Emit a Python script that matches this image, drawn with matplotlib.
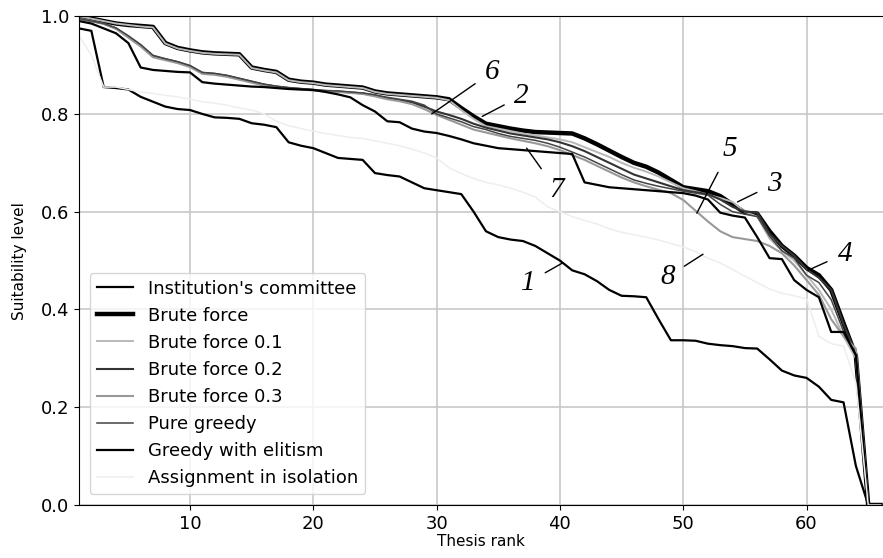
import numpy as np
import matplotlib
matplotlib.use("Agg")
import matplotlib.pyplot as plt

ranks = np.arange(1, 67)

committee = [0.975, 0.970, 0.855, 0.853, 0.850, 0.835, 0.825, 0.815, 0.810, 0.808,
             0.800, 0.793, 0.792, 0.790, 0.781, 0.778, 0.773, 0.742, 0.735, 0.730,
             0.720, 0.710, 0.708, 0.706, 0.679, 0.675, 0.672, 0.660, 0.648, 0.644,
             0.640, 0.636, 0.600, 0.560, 0.548, 0.543, 0.540, 0.530, 0.515, 0.500,
             0.480, 0.472, 0.458, 0.440, 0.428, 0.427, 0.425, 0.380, 0.337, 0.337,
             0.336, 0.330, 0.327, 0.325, 0.321, 0.320, 0.298, 0.275, 0.265, 0.260,
             0.242, 0.215, 0.210, 0.080, 0.000, 0.000]

brute = [1.000, 0.995, 0.990, 0.985, 0.982, 0.980, 0.978, 0.945, 0.935, 0.930,
         0.926, 0.924, 0.923, 0.922, 0.895, 0.890, 0.886, 0.870, 0.866, 0.864,
         0.860, 0.858, 0.856, 0.854, 0.846, 0.842, 0.840, 0.838, 0.836, 0.834,
         0.830, 0.812, 0.795, 0.780, 0.775, 0.770, 0.766, 0.763, 0.762, 0.761,
         0.760, 0.750, 0.738, 0.725, 0.712, 0.700, 0.692, 0.680, 0.665, 0.650,
         0.646, 0.642, 0.632, 0.615, 0.598, 0.596, 0.560, 0.530, 0.510, 0.485,
         0.470, 0.440, 0.372, 0.305, 0.000, 0.000]

brute_01 = [1.000, 0.995, 0.990, 0.985, 0.982, 0.979, 0.977, 0.944, 0.934, 0.929,
            0.925, 0.923, 0.922, 0.921, 0.894, 0.889, 0.885, 0.869, 0.865, 0.863,
            0.859, 0.857, 0.855, 0.853, 0.845, 0.841, 0.839, 0.837, 0.835, 0.833,
            0.828, 0.808, 0.790, 0.775, 0.770, 0.765, 0.760, 0.756, 0.752, 0.748,
            0.742, 0.732, 0.722, 0.712, 0.700, 0.690, 0.682, 0.672, 0.660, 0.648,
            0.642, 0.635, 0.628, 0.620, 0.600, 0.590, 0.545, 0.520, 0.500, 0.470,
            0.440, 0.400, 0.345, 0.300, 0.000, 0.000]

brute_02 = [0.995, 0.990, 0.985, 0.975, 0.958, 0.940, 0.918, 0.912, 0.906, 0.898,
            0.884, 0.882, 0.878, 0.872, 0.866, 0.860, 0.856, 0.853, 0.851, 0.849,
            0.847, 0.846, 0.844, 0.842, 0.838, 0.832, 0.828, 0.824, 0.815, 0.805,
            0.798, 0.790, 0.780, 0.772, 0.766, 0.760, 0.756, 0.752, 0.748, 0.742,
            0.734, 0.724, 0.712, 0.700, 0.688, 0.676, 0.668, 0.660, 0.652, 0.644,
            0.640, 0.636, 0.625, 0.610, 0.600, 0.598, 0.555, 0.530, 0.510, 0.482,
            0.465, 0.440, 0.370, 0.310, 0.000, 0.000]

brute_03 = [0.995, 0.990, 0.984, 0.974, 0.956, 0.938, 0.916, 0.910, 0.904, 0.896,
            0.882, 0.880, 0.876, 0.870, 0.864, 0.858, 0.855, 0.852, 0.850, 0.848,
            0.846, 0.845, 0.843, 0.841, 0.836, 0.830, 0.826, 0.820, 0.810, 0.798,
            0.788, 0.778, 0.768, 0.762, 0.756, 0.750, 0.745, 0.740, 0.734, 0.726,
            0.716, 0.706, 0.694, 0.682, 0.670, 0.660, 0.652, 0.645, 0.638, 0.624,
            0.602, 0.580, 0.560, 0.548, 0.544, 0.540, 0.530, 0.515, 0.490, 0.460,
            0.430, 0.380, 0.345, 0.320, 0.000, 0.000]

pure_greedy = [0.995, 0.990, 0.985, 0.976, 0.960, 0.942, 0.920, 0.913, 0.907, 0.899,
               0.885, 0.883, 0.879, 0.873, 0.867, 0.861, 0.857, 0.854, 0.852, 0.850,
               0.848, 0.847, 0.845, 0.843, 0.839, 0.834, 0.830, 0.826, 0.818, 0.800,
               0.792, 0.784, 0.774, 0.768, 0.760, 0.754, 0.750, 0.746, 0.740, 0.732,
               0.722, 0.712, 0.700, 0.688, 0.676, 0.665, 0.658, 0.652, 0.647, 0.642,
               0.638, 0.634, 0.615, 0.600, 0.595, 0.590, 0.550, 0.520, 0.505, 0.470,
               0.455, 0.420, 0.355, 0.305, 0.000, 0.000]

elitism = [0.990, 0.985, 0.975, 0.965, 0.945, 0.895, 0.890, 0.888, 0.886, 0.885,
           0.865, 0.862, 0.860, 0.858, 0.856, 0.855, 0.853, 0.851, 0.850, 0.849,
           0.845, 0.840, 0.834, 0.818, 0.805, 0.785, 0.783, 0.770, 0.764, 0.761,
           0.755, 0.748, 0.740, 0.735, 0.730, 0.728, 0.726, 0.724, 0.722, 0.720,
           0.718, 0.660, 0.655, 0.650, 0.648, 0.646, 0.644, 0.642, 0.640, 0.638,
           0.633, 0.625, 0.598, 0.592, 0.588, 0.548, 0.505, 0.503, 0.460, 0.440,
           0.425, 0.354, 0.354, 0.307, 0.000, 0.000]

isolation = [0.960, 0.920, 0.855, 0.855, 0.850, 0.845, 0.842, 0.838, 0.835, 0.830,
             0.825, 0.822, 0.818, 0.812, 0.808, 0.800, 0.785, 0.776, 0.770, 0.765,
             0.760, 0.756, 0.752, 0.750, 0.745, 0.740, 0.735, 0.728, 0.720, 0.710,
             0.690, 0.678, 0.668, 0.660, 0.655, 0.648, 0.640, 0.630, 0.610, 0.600,
             0.590, 0.582, 0.575, 0.565, 0.558, 0.553, 0.548, 0.542, 0.535, 0.528,
             0.518, 0.505, 0.495, 0.482, 0.468, 0.455, 0.442, 0.433, 0.428, 0.422,
             0.345, 0.330, 0.325, 0.250, 0.000, 0.000]

series = [
    ("Institution's committee", committee, "black", 1.6),
    ("Brute force", brute, "black", 3.2),
    ("Brute force 0.1", brute_01, "#b8b8b8", 1.4),
    ("Brute force 0.2", brute_02, "#333333", 1.5),
    ("Brute force 0.3", brute_03, "#999999", 1.5),
    ("Pure greedy", pure_greedy, "#444444", 1.1),
    ("Greedy with elitism", elitism, "black", 1.6),
    ("Assignment in isolation", isolation, "#eeeeee", 1.1),
]

# curve number, point on curve, label position
notes = [
    ("1", (40.2, 0.495), (37.4, 0.455)),
    ("2", (33.7, 0.795), (36.9, 0.837)),
    ("3", (54.4, 0.620), (57.4, 0.657)),
    ("4", (60.1, 0.480), (63.1, 0.514)),
    ("5", (51.1, 0.597), (53.8, 0.728)),
    ("6", (29.6, 0.800), (34.5, 0.886)),
    ("7", (37.3, 0.730), (39.7, 0.645)),
    ("8", (51.6, 0.513), (48.7, 0.466)),
]

fig = plt.figure(figsize=(8.83, 5.58), dpi=100)
ax = fig.add_axes([0.0895, 0.095, 0.9105, 0.876])

for name, vals, col, lw in series:
    ax.plot(ranks, vals, color=col, lw=lw, label=name)

for num, (px, py), (tx, ty) in notes:
    ax.annotate(num, xy=(px, py), xytext=(tx, ty), fontsize=21,
                family="Liberation Serif", style="italic", ha="center", va="center",
                arrowprops=dict(arrowstyle="-", color="black", lw=1.0, shrinkB=0, shrinkA=6))

ax.set_xlim(1, 66.2)
ax.set_ylim(0, 1)
ax.set_xticks([10, 20, 30, 40, 50, 60])
ax.set_yticks([0.0, 0.2, 0.4, 0.6, 0.8, 1.0])
ax.tick_params(labelsize=13)
ax.grid(True, color="#c8c8c8", lw=1.2)
ax.spines["right"].set_visible(False)
ax.set_xlabel("Thesis rank", fontsize=11, labelpad=1)
ax.set_ylabel("Suitability level", fontsize=11, labelpad=10)
ax.legend(loc="lower left", fontsize=13, handlelength=2.0, borderaxespad=0.6)

fig.savefig("out.png", dpi=100)
